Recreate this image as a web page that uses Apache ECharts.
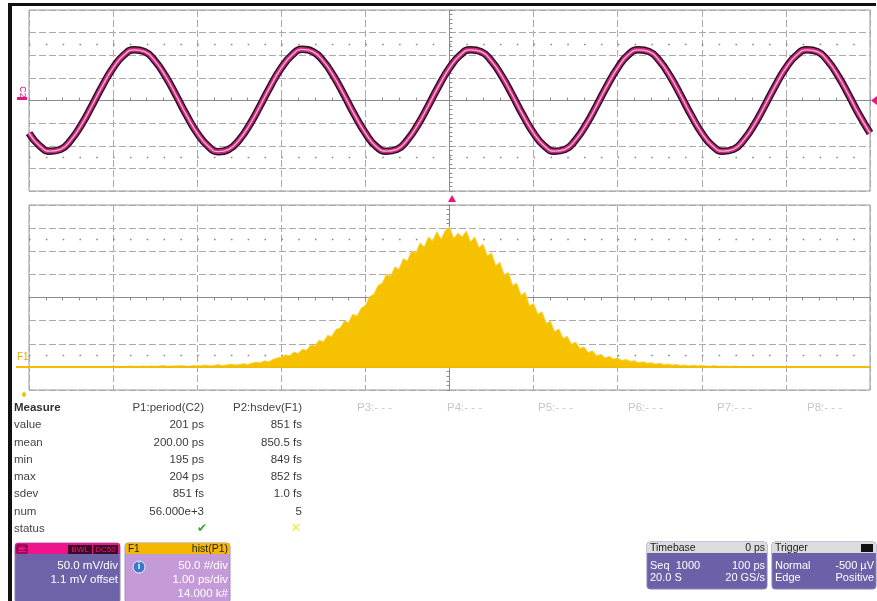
<!DOCTYPE html>
<html><head><meta charset="utf-8">
<script src="https://cdn.jsdelivr.net/npm/echarts@6.0.0/dist/echarts.min.js"></script>
<style>html,body{margin:0;padding:0;background:#fff}#c{width:877px;height:601px}</style>
</head><body><div id="c"></div>
<script>
// ---- C2 waveform (mV), sampled every 12.5 ps from -500 ps ----
const sineStartPs = -500;
const sineStepPs = 12.5;
const c2Millivolts = [
  -72,-100,-112,-108,-87,-53,-11,33,72,100,112,108,87,53,11,-33,
  -72,-100,-113,-108,-87,-53,-11,33,72,100,113,108,87,53,11,-33,
  -72,-101,-112,-108,-87,-53,-11,33,72,100,112,108,87,53,11,-33,
  -72,-100,-112,-108,-87,-53,-11,33,72,101,112,108,87,53,11,-33,
  -72,-100,-112,-108,-87,-53,-11,33,72,100,112,108,87,53,11,-33,
  -72
];
// ---- F1 histogram of P1 period: counts per 0.05 ps bin from 196.00 ps ----
const histStartPs = 196.0;
const histBinPs = 0.05;
const histCounts = [
  0,1,0,1,2,1,1,2,1,2,1,2,3,1,2,2,3,2,1,3,
  2,3,4,2,3,5,3,4,6,4,5,7,5,8,10,9,13,11,16,19,
  21,26,24,32,29,38,36,47,45,58,54,68,66,81,84,99,96,114,110,127,
  133,152,157,176,181,200,196,216,211,234,229,251,246,268,259,281,272,292,276,295,
  302,278,289,281,294,270,281,258,265,240,246,219,226,199,204,176,181,155,161,132,
  137,114,119,94,99,76,82,62,66,49,54,40,43,31,35,24,27,19,23,17,
  19,14,16,12,13,9,11,8,9,6,8,5,6,4,5,3,4,2,4,2,
  3,2,1,3,1,2,1,1,2,0,1,1,0,1,0,1,0,0,1,0,
  0
];
// ---- measurement table ----
const measureRows = ['value','mean','min','max','sdev','num','status'];
const p1Header = 'P1:period(C2)';
const p1Values = ['201 ps','200.00 ps','195 ps','204 ps','851 fs','56.000e+3'];
const p2Header = 'P2:hsdev(F1)';
const p2Values = ['851 fs','850.5 fs','849 fs','852 fs','1.0 fs','5'];
const emptyParams = ['P3:- - -','P4:- - -','P5:- - -','P6:- - -','P7:- - -','P8:- - -'];
// ---- descriptor boxes ----
const c2Box = ['50.0 mV/div','1.1 mV offset'];
const f1Box = ['50.0 #/div','1.00 ps/div','14.000 k#'];
const timebaseBox = [['Seq  1000','100 ps'],['20.0 S','20 GS/s']];
const triggerBox = [['Normal','-500 µV'],['Edge','Positive']];

const sineData = c2Millivolts.map((v,i)=>[sineStartPs + i*sineStepPs, v]);
const histData = histCounts.map((v,i)=>[+(histStartPs + i*histBinPs).toFixed(2), v]);

const FONT = 'Liberation Sans, Arial, sans-serif';
function txt(x,y,s,o){ o=o||{}; return {type:'text', silent:true, z:o.z||20, x:x, y:y, rotation:o.rot||0,
  style:{text:s, x:0, y:0, fill:o.c||'#3a3a3a', fontSize:o.fs||11.5, fontFamily:o.ff||FONT, fontWeight:o.fw||'normal',
  align:o.a||'left', textAlign:o.a||'left', verticalAlign:'middle', textVerticalAlign:'middle'}}; }
function rect(x,y,w,h,fill,o){ o=o||{}; return {type:'rect', silent:true, z:o.z||15, shape:{x:x,y:y,width:w,height:h,r:o.r||0},
  style:{fill:fill, stroke:o.s||null, lineWidth:o.lw||1}}; }

const gridLine = {color:'#ababab', type:[7,3], width:1};
const centerLine = {color:'#8c8c8c', width:1};
const tickCfg = {show:true, inside:true, length:3, lineStyle:{color:'#8c8c8c'}};
const minorCfg = {show:true, splitNumber:5, length:3, lineStyle:{color:'#8c8c8c'}};

const g = [];
// frame
g.push(rect(8,3,4,598,'#111'));
g.push(rect(8,3,868,3,'#111'));
// C2 marker
g.push(txt(22,92,'C2',{c:'#e8157f', fs:9, rot:-Math.PI/2, a:'center'}));
g.push(rect(17,97,10,3,'#e8157f'));
g.push({type:'polygon', silent:true, z:20, shape:{points:[[877,96],[871,100.5],[877,105]]}, style:{fill:'#e8157f'}});
g.push({type:'polygon', silent:true, z:20, shape:{points:[[448,202],[452,195],[456,202]]}, style:{fill:'#e8157f'}});
// F1 marker
g.push(txt(17,357,'F1',{c:'#e3b000', fs:10}));
g.push({type:'line', silent:true, z:20, shape:{x1:16,y1:367,x2:30,y2:367}, style:{stroke:'#f2bd00', lineWidth:2}});
g.push({type:'polygon', silent:true, z:20, shape:{points:[[24,391.5],[26.5,394.5],[24,397.5],[21.5,394.5]]}, style:{fill:'#f2c200'}});

// measurement table
const rowY = [425,443,460,477,494,512,529];
g.push(txt(14,408,'Measure',{fw:'bold', c:'#333'}));
g.push(txt(204,408,p1Header,{a:'right', c:'#444'}));
g.push(txt(302,408,p2Header,{a:'right', c:'#444'}));
measureRows.forEach((r,i)=>g.push(txt(14,rowY[i],r,{c:'#444'})));
p1Values.forEach((v,i)=>g.push(txt(204,rowY[i],v,{a:'right'})));
p2Values.forEach((v,i)=>g.push(txt(302,rowY[i],v,{a:'right'})));
g.push(txt(202,529,'✔',{ff:'DejaVu Sans', c:'#36a636', fs:12, a:'center'}));
g.push(txt(296,529,'✕',{ff:'DejaVu Sans', c:'#eeea3a', fs:13, a:'center'}));
const emptyX = [357,447,538,628,717,807];
emptyParams.forEach((p,i)=>g.push(txt(emptyX[i],408,p,{c:'#c6c6c6'})));

// C2 box
g.push(rect(15,543,105,60,'#6e62a8',{r:3, s:'#8a80b8'}));
g.push(rect(15,543,105,11,'#f0148c',{r:[3,3,0,0]}));
g.push(rect(17,545,10,8,'#f0148c',{s:'#5a0030'}));
g.push(txt(22,549,'C2',{c:'#400020', fs:8, a:'center', z:21}));
g.push(rect(68,545,24,9,'#3a0a22'));
g.push(rect(93,545,25,9,'#3a0a22'));
g.push(txt(80,549.5,'BWL',{c:'#f0148c', fs:8, a:'center', z:21}));
g.push(txt(105.5,549.5,'DC50',{c:'#f0148c', fs:8, a:'center', z:21}));
g.push(txt(118,566,c2Box[0],{a:'right', c:'#fff', fs:11.5}));
g.push(txt(118,580,c2Box[1],{a:'right', c:'#fff', fs:11.5}));
// F1 box
g.push(rect(125,543,105,60,'#c49bd8',{r:3, s:'#a98ac0'}));
g.push(rect(125,543,105,11,'#f5b800',{r:[3,3,0,0]}));
g.push(txt(128,549,'F1',{c:'#222', fs:10}));
g.push(txt(228,549,'hist(P1)',{c:'#222', fs:10.5, a:'right'}));
g.push({type:'circle', silent:true, z:20, shape:{cx:139, cy:567, r:6}, style:{fill:'#3c78c8', stroke:'#e8f0ff', lineWidth:1}});
g.push(txt(139,567,'i',{c:'#fff', fs:9, fw:'bold', a:'center', z:21}));
f1Box.forEach((v,i)=>g.push(txt(228,566+i*14,v,{a:'right', c:'#fff', fs:11.5})));
// Timebase box
g.push(rect(647,542,120,47,'#6c60a8',{r:3, s:'#8a80b8'}));
g.push(rect(647,542,120,11,'#dcdcdc',{r:[3,3,0,0]}));
g.push(txt(650,548,'Timebase',{c:'#222', fs:10.5}));
g.push(txt(765,548,'0 ps',{c:'#222', fs:10.5, a:'right'}));
timebaseBox.forEach((r,i)=>{ g.push(txt(650,566+i*12,r[0],{c:'#fff', fs:11})); g.push(txt(765,566+i*12,r[1],{c:'#fff', fs:11, a:'right'})); });
// Trigger box
g.push(rect(772,542,104,47,'#6c60a8',{r:3, s:'#8a80b8'}));
g.push(rect(772,542,104,11,'#dcdcdc',{r:[3,3,0,0]}));
g.push(txt(775,548,'Trigger',{c:'#222', fs:10.5}));
g.push(rect(861,544,12,8,'#111'));
triggerBox.forEach((r,i)=>{ g.push(txt(775,566+i*12,r[0],{c:'#fff', fs:11})); g.push(txt(874,566+i*12,r[1],{c:'#fff', fs:11, a:'right'})); });

function dotMark(values){ return {silent:true, symbol:'none', z:1, label:{show:false}, animation:false,
  lineStyle:{color:'#8a8a8a', type:[1.6,15.22], width:1.3}, data:values.map(v=>({yAxis:v}))}; }

const option = {
  animation:false,
  backgroundColor:'#fff',
  grid:[
    {left:29, top:10, width:841, height:181, show:true, borderColor:'#9a9a9a', borderWidth:1},
    {left:29, top:205, width:841, height:185, show:true, borderColor:'#9a9a9a', borderWidth:1}
  ],
  xAxis:[
    {gridIndex:0, type:'value', min:-500, max:500, interval:100, axisLabel:{show:false},
     axisLine:{show:true, onZero:true, lineStyle:centerLine}, axisTick:tickCfg, minorTick:minorCfg,
     splitLine:{show:true, lineStyle:gridLine}},
    {gridIndex:1, type:'value', min:195, max:205, interval:1, axisLabel:{show:false},
     axisLine:{show:false, onZero:false}, axisTick:{show:false}, splitLine:{show:true, lineStyle:gridLine}},
    {gridIndex:1, type:'value', min:-5, max:5, interval:1, axisLabel:{show:false},
     axisLine:{show:true, onZero:true, onZeroAxisIndex:2, lineStyle:centerLine}, axisTick:tickCfg, minorTick:minorCfg,
     splitLine:{show:false}}
  ],
  yAxis:[
    {gridIndex:0, type:'value', min:-200, max:200, interval:50, axisLabel:{show:false},
     axisLine:{show:true, onZero:true, lineStyle:centerLine}, axisTick:tickCfg, minorTick:minorCfg,
     splitLine:{show:true, lineStyle:gridLine}},
    {gridIndex:1, type:'value', min:-50, max:350, interval:50, axisLabel:{show:false},
     axisLine:{show:false, onZero:false}, axisTick:{show:false}, splitLine:{show:true, lineStyle:gridLine}},
    {gridIndex:1, type:'value', min:-4, max:4, interval:1, axisLabel:{show:false},
     axisLine:{show:true, onZero:true, onZeroAxisIndex:2, lineStyle:centerLine}, axisTick:tickCfg, minorTick:minorCfg,
     splitLine:{show:false}}
  ],
  series:[
    {type:'line', xAxisIndex:0, yAxisIndex:0, data:[], markLine:dotMark([125,-125])},
    {type:'line', xAxisIndex:0, yAxisIndex:0, data:sineData, smooth:true, showSymbol:false, z:3,
     lineStyle:{color:'#2b1020', width:7.5}},
    {type:'line', xAxisIndex:0, yAxisIndex:0, data:sineData, smooth:true, showSymbol:false, z:4,
     lineStyle:{color:'#c8287e', width:4.6}},
    {type:'line', xAxisIndex:0, yAxisIndex:0, data:sineData, smooth:true, showSymbol:false, z:5,
     lineStyle:{color:'#f7b6d5', width:1.3}},
    {type:'line', xAxisIndex:1, yAxisIndex:1, data:[], markLine:dotMark([275,25])},
    {type:'line', xAxisIndex:1, yAxisIndex:1, data:histData, showSymbol:false, z:3,
     lineStyle:{color:'#f8d440', width:1}, areaStyle:{color:'#f6c200', opacity:1},
     markLine:{silent:true, symbol:'none', z:6, label:{show:false}, lineStyle:{color:'#f2bd00', type:'solid', width:2}, data:[{yAxis:0}]}}
  ],
  graphic:{elements:g}
};
const chart = echarts.init(document.getElementById('c'), null, {renderer:'canvas'});
chart.setOption(option);
</script></body></html>
